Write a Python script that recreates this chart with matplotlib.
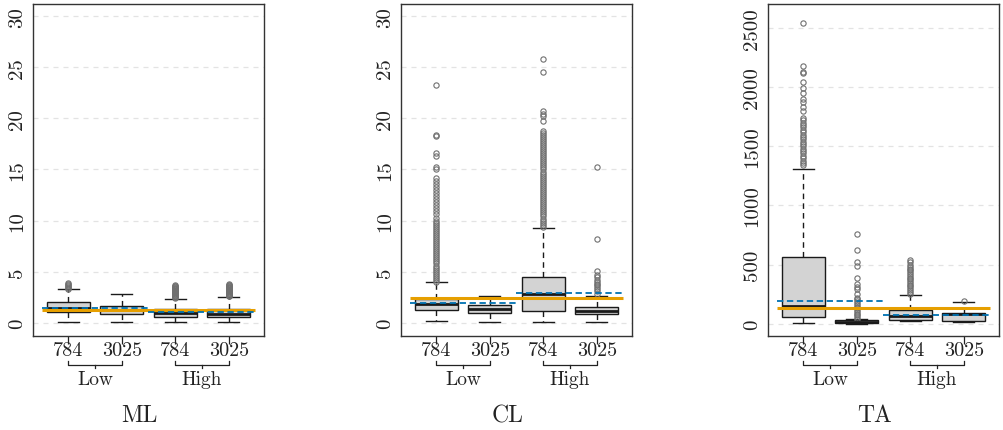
import matplotlib
matplotlib.use("Agg")
import matplotlib.pyplot as plt
from matplotlib.transforms import blended_transform_factory

plt.rcParams['font.family'] = ['cmr10', 'DejaVu Serif']
plt.rcParams['axes.formatter.use_mathtext'] = True

# Data
panel_names = ['ML', 'CL', 'TA']
size_labels = ['784', '3025', '784', '3025']
group_labels = ['Low', 'High']

# ML
ml_q1 = [1.05, 0.85, 0.59, 0.55]
ml_med = [1.40, 1.25, 0.95, 0.90]
ml_q3 = [1.98, 1.64, 1.38, 1.38]
ml_lo = [0.03, 0.03, 0.03, 0.03]
ml_hi = [3.26, 2.77, 2.37, 2.53]
ml_fliers = [
    [3.32, 3.42, 3.52, 3.62, 3.72, 3.82, 3.92],
    [],
    [2.42, 2.48, 2.54, 2.60, 2.66, 2.72, 2.78, 2.84, 2.90, 2.96, 3.02, 3.08,
     3.14, 3.20, 3.26, 3.32, 3.38, 3.44, 3.50, 3.56, 3.62, 3.66],
    [2.58, 2.64, 2.70, 2.76, 2.82, 2.88, 2.94, 3.00, 3.06, 3.12, 3.18, 3.24,
     3.30, 3.36, 3.42, 3.48, 3.54, 3.60, 3.66, 3.72, 3.76],
]
ml_mean = 1.22
ml_group_mean = [1.41, 1.09]

# CL
cl_q1 = [1.22, 0.92, 1.19, 0.82]
cl_med = [1.80, 1.38, 2.77, 1.19]
cl_q3 = [2.30, 1.78, 4.45, 1.58]
cl_lo = [0.15, 0.03, 0.05, 0.03]
cl_hi = [3.95, 2.57, 9.25, 2.57]
cl_fliers = [
    [4.0, 4.2, 4.4, 4.6, 4.8, 5.0, 5.2, 5.4, 5.6, 5.8, 6.0, 6.2, 6.4, 6.6,
     6.8, 7.0, 7.2, 7.4, 7.6, 7.8, 8.0, 8.2, 8.4, 8.6, 8.8, 9.0, 9.2, 9.4,
     9.6, 9.8, 10.0, 10.3, 10.6, 10.9, 11.2, 11.5, 11.8, 12.1, 12.4, 12.7,
     13.0, 13.3, 13.6, 13.9, 14.2, 15.0, 15.2, 16.3, 16.6, 18.3, 18.4, 23.3],
    [],
    [9.4, 9.6, 9.8, 10.0, 10.2, 10.4, 10.6, 10.8, 11.0, 11.2, 11.4, 11.6,
     11.8, 12.0, 12.2, 12.4, 12.6, 12.8, 13.0, 13.2, 13.4, 13.6, 13.8, 14.0,
     14.2, 14.4, 14.6, 14.8, 15.0, 15.2, 15.4, 15.6, 15.8, 16.0, 16.2, 16.4,
     16.6, 16.8, 17.0, 17.2, 17.4, 17.6, 17.8, 18.0, 18.2, 18.4, 18.6, 18.8,
     19.7, 20.2, 20.45, 20.7, 24.5, 25.8],
    [2.85, 3.1, 3.3, 3.5, 3.65, 3.8, 3.95, 4.15, 4.5, 4.65, 5.05, 8.15, 15.2],
]
cl_mean = 2.42
cl_group_mean = [1.92, 2.92]

# TA
ta_q1 = [56, 8, 30, 20]
ta_med = [152, 15, 65, 80]
ta_q3 = [565, 28, 115, 88]
ta_lo = [4, 0, 19, 12]
ta_hi = [1309, 38, 243, 180]
ta_fliers = [
    [1340, 1360, 1380, 1400, 1420, 1440, 1460, 1480, 1500, 1520, 1540, 1560,
     1580, 1600, 1620, 1640, 1660, 1680, 1700, 1720, 1740, 1796, 1829, 1872,
     1900, 1948, 1990, 2046, 2119, 2130, 2181, 2541],
    [40, 55, 70, 85, 100, 115, 130, 145, 160, 175, 190, 205, 220, 249, 291,
     311, 334, 386, 487, 521, 620, 762],
    [255, 270, 285, 300, 315, 330, 345, 360, 375, 390, 405, 420, 435, 450,
     465, 480, 500, 520, 538],
    [196],
]
ta_mean = 135
ta_group_mean = [196, 73]

y_ticks = [[0, 5, 10, 15, 20, 25, 30], [0, 5, 10, 15, 20, 25, 30],
           [0, 500, 1000, 1500, 2000, 2500]]
y_limits = [(-1.3, 31.2), (-1.3, 31.2), (-104, 2704)]

panels = [
    (ml_q1, ml_med, ml_q3, ml_lo, ml_hi, ml_fliers, ml_mean, ml_group_mean),
    (cl_q1, cl_med, cl_q3, cl_lo, cl_hi, cl_fliers, cl_mean, cl_group_mean),
    (ta_q1, ta_med, ta_q3, ta_lo, ta_hi, ta_fliers, ta_mean, ta_group_mean),
]

ORANGE = '#E69F00'
BLUE = '#0072B2'

fig = plt.figure(figsize=(10.04, 4.31), dpi=100)
lefts = [33, 401, 768]
W, H = 1004.0, 431.0
positions = [1, 2, 3, 4]

for i, (q1, med, q3, lo, hi, fl, mean, gmean) in enumerate(panels):
    ax = fig.add_axes([lefts[i] / W, (H - 337) / H, 231 / W, 332 / H])
    stats = []
    for k in range(4):
        stats.append(dict(q1=q1[k], med=med[k], q3=q3[k], whislo=lo[k],
                          whishi=hi[k], fliers=fl[k]))
    for t in y_ticks[i]:
        ax.axhline(t, color='#e3e3e3', lw=0.9, ls=(0, (4, 4)), zorder=0)
    ax.bxp(stats, positions=positions, widths=0.8, capwidths=0.4,
           patch_artist=True, manage_ticks=False,
           boxprops=dict(facecolor='#d3d3d3', edgecolor='#1a1a1a', linewidth=1.0),
           whiskerprops=dict(color='#1a1a1a', linewidth=1.0, linestyle=(0, (4, 3))),
           capprops=dict(color='#1a1a1a', linewidth=1.0),
           medianprops=dict(color='#1a1a1a', linewidth=2.0),
           flierprops=dict(marker='o', markersize=3.8, markerfacecolor='none',
                           markeredgecolor='#707070', markeredgewidth=0.8))
    ax.plot([0.5, 4.5], [mean, mean], color=ORANGE, lw=2.2, zorder=5,
            solid_capstyle='butt')
    ax.plot([0.5, 2.5], [gmean[0], gmean[0]], color=BLUE, lw=1.3,
            ls=(0, (3.5, 2)), zorder=6)
    ax.plot([2.5, 4.5], [gmean[1], gmean[1]], color=BLUE, lw=1.3,
            ls=(0, (3.5, 2)), zorder=6)

    ax.set_xlim(0.34, 4.66)
    ax.set_ylim(*y_limits[i])
    ax.set_yticks(y_ticks[i])
    ax.set_yticklabels([str(t) for t in y_ticks[i]], rotation=90, va='center')
    ax.tick_params(axis='y', length=0, pad=5, labelsize=15, labelcolor='#222222')
    ax.set_xticks(positions)
    ax.set_xticklabels(size_labels)
    ax.tick_params(axis='x', length=5.5, width=0.9, pad=-2.0, labelsize=14.5,
                   color='#222222', labelcolor='#222222')
    for sp in ax.spines.values():
        sp.set_linewidth(1.0)
        sp.set_color('#333333')

    # group brackets under the tick labels
    tr = blended_transform_factory(ax.transData, fig.transFigure)
    yb = 1 - 366 / H
    yup = 1 - 362 / H
    ydn = 1 - 369 / H
    for g, (a, b) in enumerate([(1, 2), (3, 4)]):
        ax.plot([a, a, b, b], [yup, yb, yb, yup], color='#222222', lw=0.9,
                transform=tr, clip_on=False)
        ax.plot([(a + b) / 2] * 2, [yb, ydn], color='#222222', lw=0.9,
                transform=tr, clip_on=False)
        ax.text((a + b) / 2, 1 - 380 / H, group_labels[g], transform=tr,
                ha='center', va='center', fontsize=14, color='#222222')

    fig.text((lefts[i] + 106.5) / W, 1 - 416 / H, panel_names[i],
             ha='center', va='center', fontsize=17, color='#222222')

fig.savefig('out.png', dpi=100)
